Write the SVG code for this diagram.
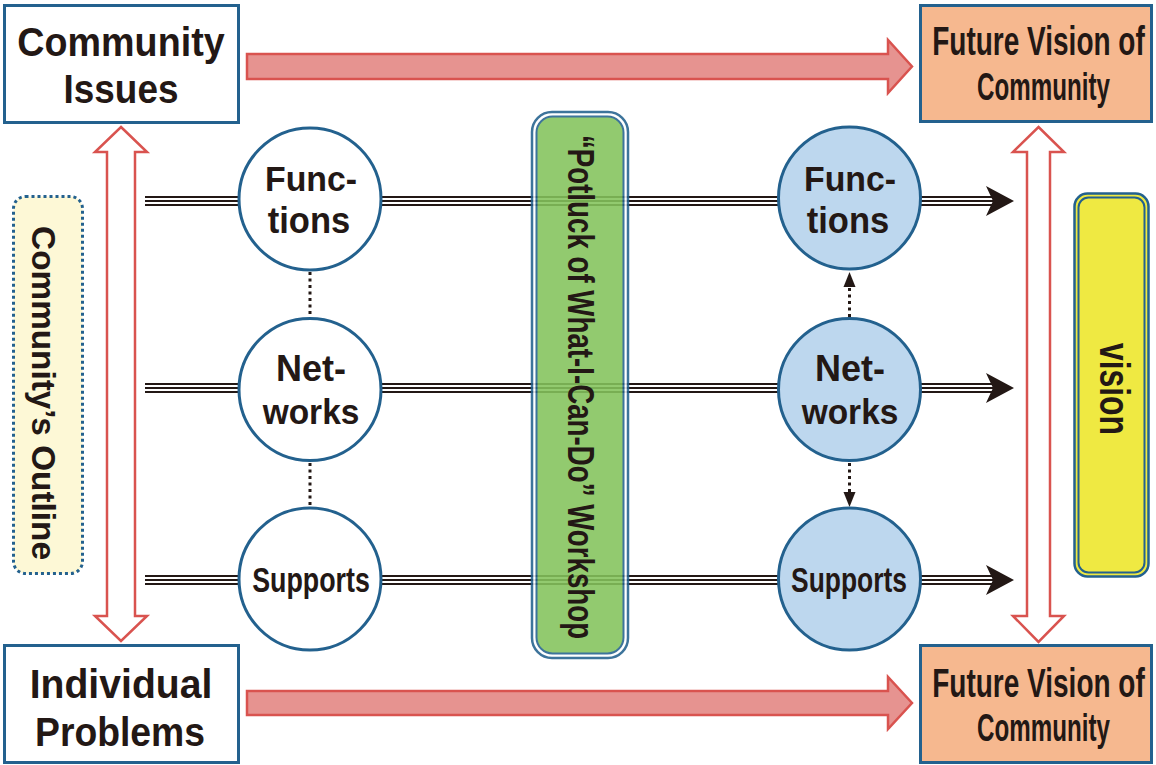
<svg xmlns="http://www.w3.org/2000/svg" width="1156" height="765" viewBox="0 0 1156 765">
<defs>
<style>
.t{font-family:"Liberation Sans",Arial,sans-serif;font-weight:bold;fill:#231815;text-anchor:middle}
.box{fill:#fff;stroke:#23618e;stroke-width:3}
.fbox{fill:#f6b88f;stroke:#23618e;stroke-width:3}
.red{fill:#e69390;stroke:#d9534f;stroke-width:2.5;stroke-linejoin:miter}
.hollow{fill:#fff;stroke:#d9534f;stroke-width:2.5}
.cw{fill:#fff;stroke:#23618e;stroke-width:3}
.cb{fill:#bdd7ee;stroke:#23618e;stroke-width:3}
.dot{stroke:#231815;stroke-width:3;stroke-dasharray:3 3.5;fill:none}
.tl1{stroke:#231815;stroke-width:10;fill:none}
.tl2{stroke:#fff;stroke-width:6;fill:none}
.tl3{stroke:#231815;stroke-width:2;fill:none}
.ah{fill:#231815}
</style>
</defs>

<g id="connectors">
<path class="red" d="M247,54 L888,54 L888,40 L912,66.5 L888,93 L888,79 L247,79 Z"/>
<path class="red" d="M247,691 L888,691 L888,677 L912,703 L888,729 L888,715 L247,715 Z"/>
<path class="hollow" d="M121,127 L147,152 L135,152 L135,616 L147,616 L121,641 L95,616 L107,616 L107,152 L95,152 Z"/>
<path class="hollow" d="M1038.5,127 L1064,152 L1050,152 L1050,616 L1064,616 L1038.5,642 L1013,616 L1027,616 L1027,152 L1013,152 Z"/>
<g>
<path class="tl1" d="M145,201 H995 M145,388 H995 M145,580 H995"/>
<path class="tl2" d="M145,201 H995 M145,388 H995 M145,580 H995"/>
<path class="tl3" d="M145,201 H995 M145,388 H995 M145,580 H995"/>
<path class="ah" d="M986,186 L1014,201 L986,216 L993,201 Z"/>
<path class="ah" d="M986,373 L1014,388 L986,403 L993,388 Z"/>
<path class="ah" d="M986,565 L1014,580 L986,595 L993,580 Z"/>
</g>
<path class="dot" d="M310,272 V316 M310,463 V507"/>
<path class="dot" d="M849.5,317 V287"/>
<path class="ah" d="M849.5,272 L855.5,287 L843.5,287 Z"/>
<path class="dot" d="M849.5,463 V492"/>
<path class="ah" d="M849.5,507 L855.5,492 L843.5,492 Z"/>
</g>

<g id="community-issues">
<rect class="box" x="4.5" y="5.5" width="234" height="117"/>
<text class="t" font-size="41" transform="translate(121,56) scale(0.92,1)">Community</text>
<text class="t" font-size="41" transform="translate(121,103) scale(0.9,1)">Issues</text>
</g>

<g id="individual-problems">
<rect class="box" x="4.5" y="645.5" width="234" height="117"/>
<text class="t" font-size="41" transform="translate(121,698) scale(0.955,1)">Individual</text>
<text class="t" font-size="41" transform="translate(120,746) scale(0.91,1)">Problems</text>
</g>

<g id="future-vision-top">
<rect class="fbox" x="920.5" y="5.5" width="231" height="116"/>
<text class="t" font-size="40" transform="translate(1038.5,55) scale(0.70,1)">Future Vision of</text>
<text class="t" font-size="38" transform="translate(1043.5,100) scale(0.636,1)">Community</text>
</g>

<g id="future-vision-bottom">
<rect class="fbox" x="920.5" y="645.5" width="231" height="117"/>
<text class="t" font-size="40" transform="translate(1038.5,697) scale(0.70,1)">Future Vision of</text>
<text class="t" font-size="38" transform="translate(1043.5,741) scale(0.636,1)">Community</text>
</g>

<g id="community-outline">
<rect x="13.5" y="196.5" width="69" height="377" rx="12" fill="#fdf8d6" stroke="#23618e" stroke-width="3" stroke-dasharray="3 3"/>
<text class="t" font-size="33" transform="translate(32,393) rotate(90) scale(1.01,1)">Community’s Outline</text>
</g>

<g id="functions-left">
<circle class="cw" cx="310" cy="199" r="71"/>
<text class="t" font-size="36" transform="translate(311,191) scale(0.94,1)">Func-</text>
<text class="t" font-size="36" transform="translate(309,233) scale(0.96,1)">tions</text>
</g>
<g id="networks-left">
<circle class="cw" cx="310" cy="389.5" r="71"/>
<text class="t" font-size="36" transform="translate(311,381)">Net-</text>
<text class="t" font-size="36" transform="translate(311,424) scale(0.93,1)">works</text>
</g>
<g id="supports-left">
<circle class="cw" cx="310" cy="579" r="71"/>
<text class="t" font-size="36" transform="translate(311,592) scale(0.745,1)">Supports</text>
</g>

<g id="workshop" opacity="0.88">
<rect x="532" y="112" width="96" height="546" rx="20" fill="#fff" stroke="#23618e" stroke-width="2.5"/>
<rect x="536.5" y="116.5" width="87" height="537" rx="16" fill="#84c35c" stroke="#23618e" stroke-width="2"/>
</g>
<g id="workshop-label">
<text class="t" font-size="37" transform="translate(568,387) rotate(90) scale(0.749,1)">“Potluck of What-I-Can-Do” Workshop</text>
</g>

<g id="functions-right">
<circle class="cb" cx="849.5" cy="198" r="71"/>
<text class="t" font-size="36" transform="translate(850,191) scale(0.94,1)">Func-</text>
<text class="t" font-size="36" transform="translate(848,233) scale(0.96,1)">tions</text>
</g>
<g id="networks-right">
<circle class="cb" cx="849.5" cy="389.5" r="71"/>
<text class="t" font-size="36" transform="translate(850,381)">Net-</text>
<text class="t" font-size="36" transform="translate(850,424) scale(0.93,1)">works</text>
</g>
<g id="supports-right">
<circle class="cb" cx="849.5" cy="579" r="71"/>
<text class="t" font-size="36" transform="translate(849,592) scale(0.734,1)">Supports</text>
</g>

<g id="vision">
<rect x="1074.5" y="193.5" width="74" height="383" rx="13" fill="#efe942" stroke="#23618e" stroke-width="2.5"/>
<rect x="1078.5" y="197.5" width="66" height="375" rx="10" fill="none" stroke="#23618e" stroke-width="2"/>
<text class="t" font-size="42" transform="translate(1100,389) rotate(90) scale(0.76,1)">vision</text>
</g>
</svg>
